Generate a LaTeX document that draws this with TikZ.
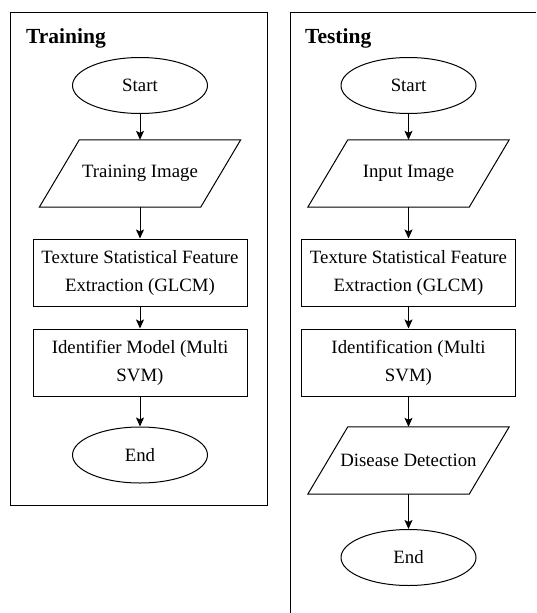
\documentclass[tikz,border=0pt]{standalone}
\usepackage{fontspec}
\setmainfont{Liberation Serif}
\usetikzlibrary{arrows.meta,calc,shapes.geometric}

\tikzset{
  every picture/.style={x=1pt,y=-1pt},
  lw/.style={line width=1pt},
  panel/.style={lw,draw=black},
  paneltitle/.style={anchor=base west,inner sep=0pt,font=\fontsize{21.5}{24}\selectfont\bfseries},
  term/.style={ellipse,lw,draw=black,minimum width=135pt,minimum height=56pt,inner sep=0pt,
    font=\fontsize{18.8}{28}\selectfont},
  proc/.style={rectangle,lw,draw=black,minimum width=214pt,minimum height=67pt,inner sep=0pt,
    align=center,font=\fontsize{18.8}{28}\selectfont},
  io/.style={rectangle,draw=none,minimum width=161pt,minimum height=67pt,inner sep=0pt,
    align=center,font=\fontsize{18.8}{28}\selectfont},
  flow/.style={lw,-{Stealth[length=9pt,width=8pt,inset=2pt]}},
}
% parallelogram outline around an io node
\newcommand{\skewbox}[1]{%
  \draw[lw] ($(#1.north west)+(20,0)$) -- ($(#1.north east)+(20,0)$)
    -- ($(#1.south east)+(-20,0)$) -- ($(#1.south west)+(-20,0)$) -- cycle;}

\begin{document}
\begin{tikzpicture}
\useasboundingbox (0,0) rectangle (536,613);

% ---------- Training ----------
\draw[panel] (10.5,12.5) rectangle (267.5,505.5);
\node[paneltitle] (ttl) at (26,43) {Training};

\node[term] (s1) at (140,85.5) {Start};
\node[io]   (i1) at (140,173.5) {Training Image};
\skewbox{i1}
\node[proc] (f1) at (140,272.5) {Texture Statistical Feature\\Extraction (GLCM)};
\node[proc] (m1) at (140,362.5) {Identifier Model (Multi\\SVM)};
\node[term] (e1) at (140,455) {End};

\draw[flow] (s1.south) -- (i1.north);
\draw[flow] (i1.south) -- (f1.north);
\draw[flow] (f1.south) -- (m1.north);
\draw[flow] (m1.south) -- (e1.north);

% ---------- Testing ----------
\draw[panel] (536,12.5) -- (290.5,12.5) -- (290.5,613);
\node[paneltitle] (tst) at (305,43) {Testing};

\node[term] (s2) at (408.5,85.5) {Start};
\node[io]   (i2) at (408.5,173.5) {Input Image};
\skewbox{i2}
\node[proc] (f2) at (408.5,272.5) {Texture Statistical Feature\\Extraction (GLCM)};
\node[proc] (m2) at (408.5,362.5) {Identification (Multi\\SVM)};
\node[io]   (d2) at (408.5,460.5) {Disease Detection};
\skewbox{d2}
\node[term] (e2) at (408.5,557.5) {End};

\draw[flow] (s2.south) -- (i2.north);
\draw[flow] (i2.south) -- (f2.north);
\draw[flow] (f2.south) -- (m2.north);
\draw[flow] (m2.south) -- (d2.north);
\draw[flow] (d2.south) -- (e2.north);
\end{tikzpicture}
\end{document}
